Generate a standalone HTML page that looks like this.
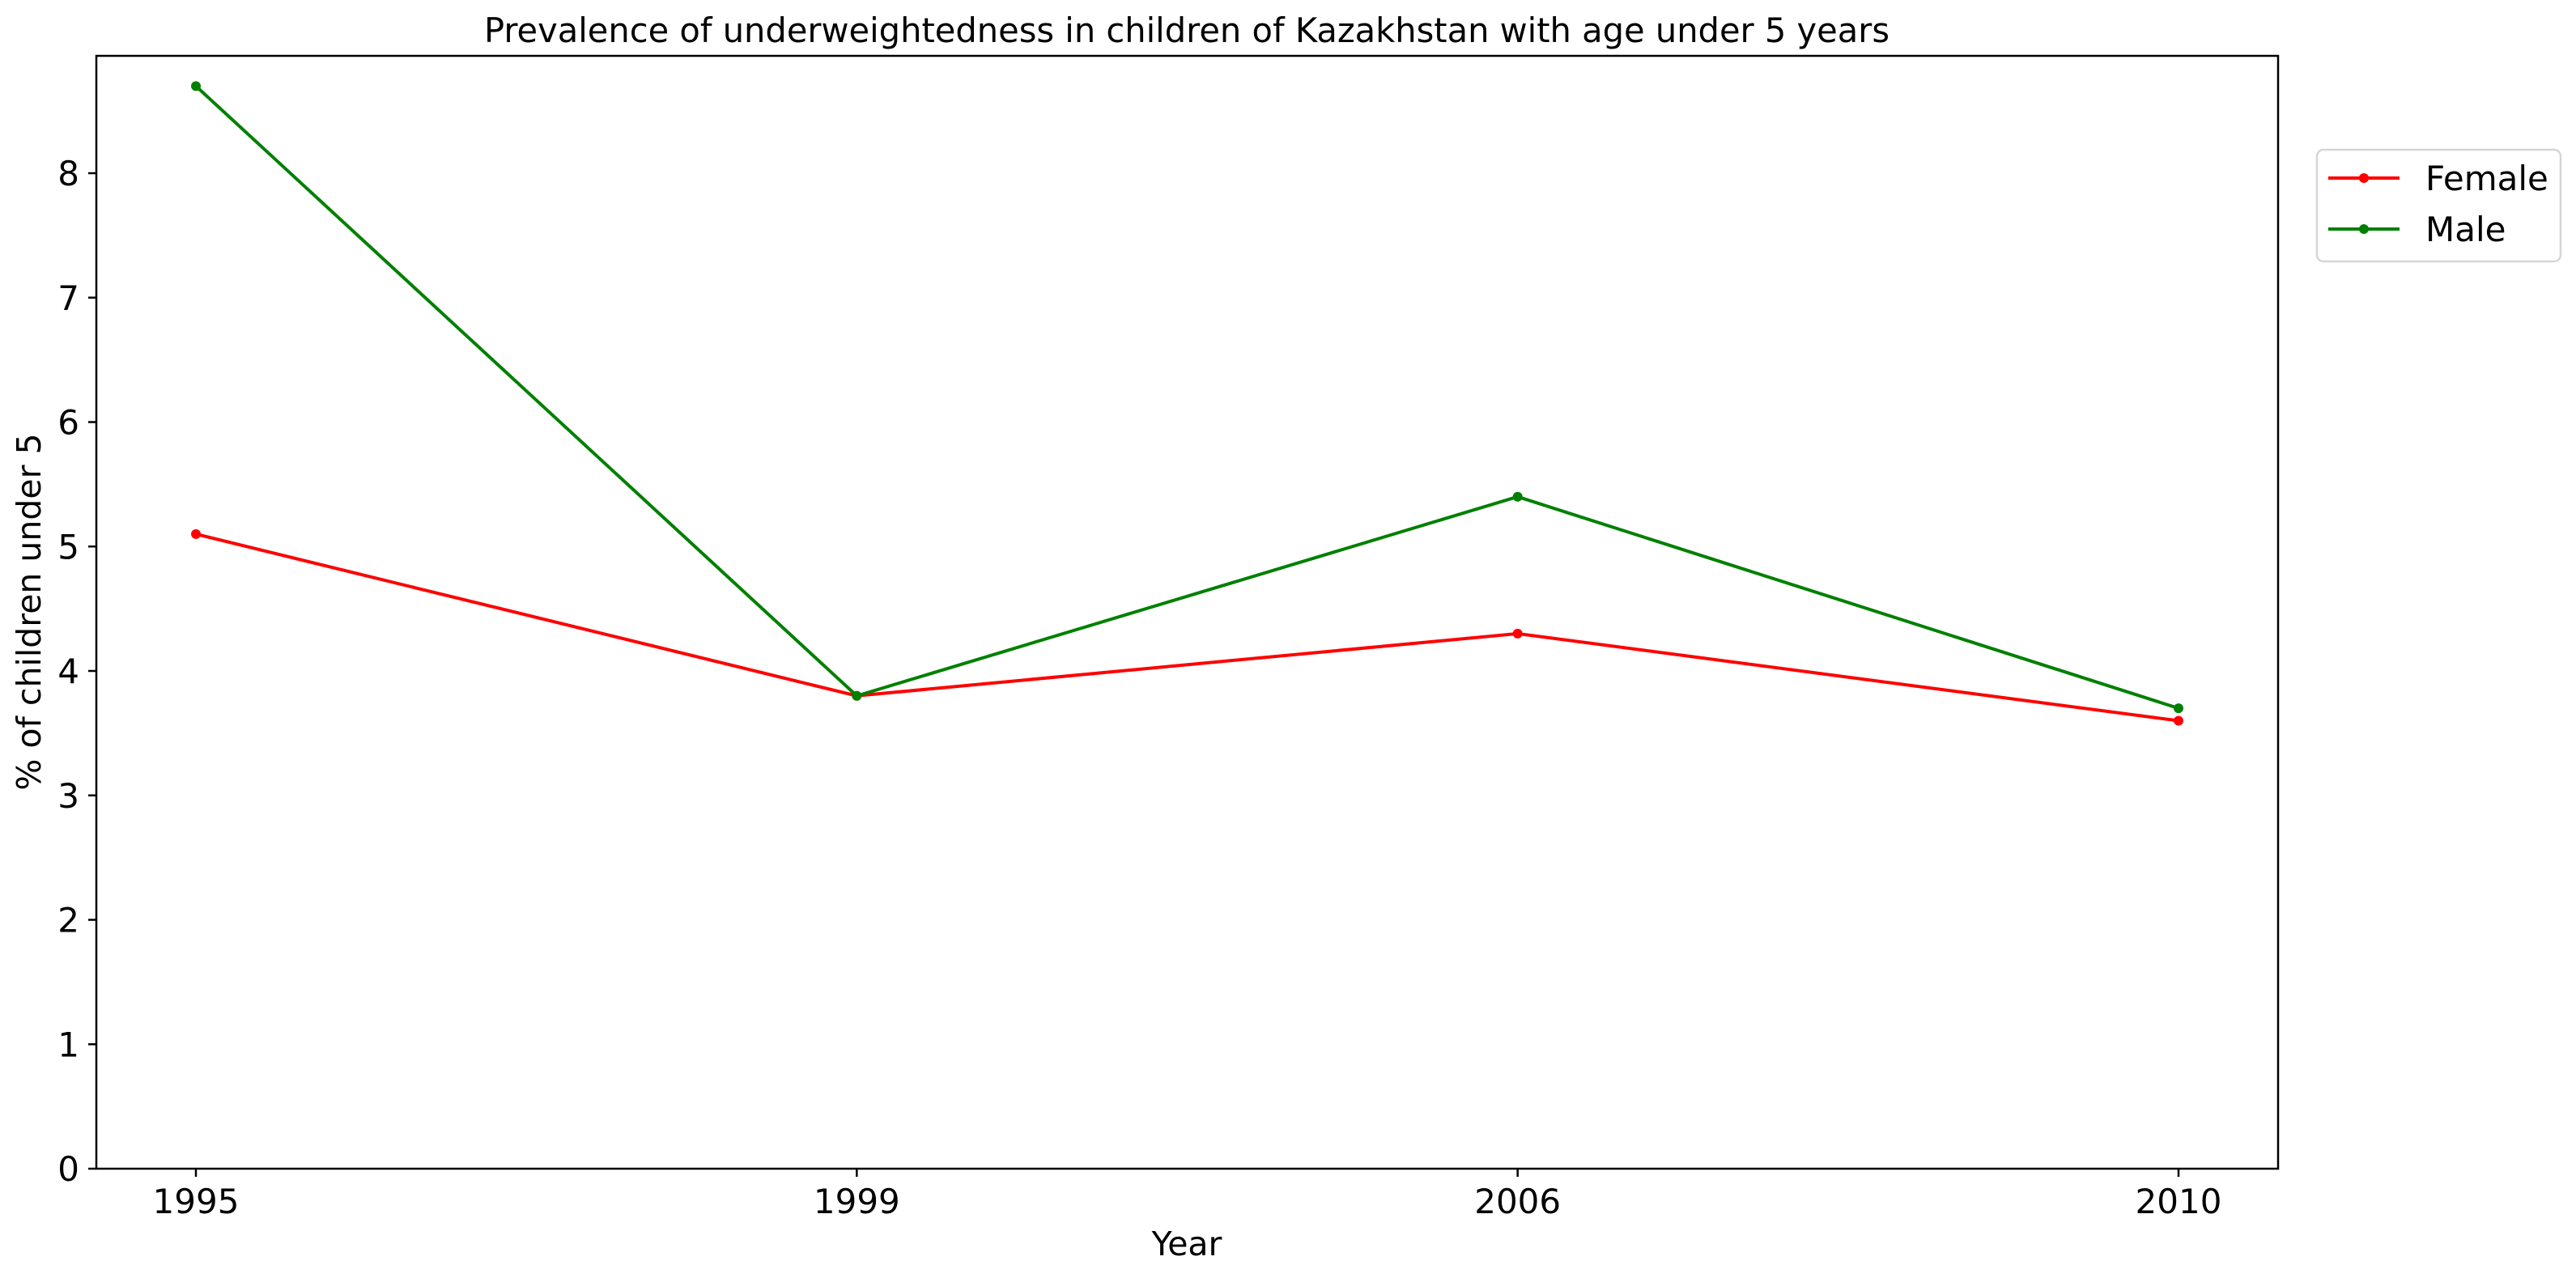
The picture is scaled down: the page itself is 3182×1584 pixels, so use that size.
<!DOCTYPE html>
<html><head><meta charset="utf-8"><style>
html,body{margin:0;padding:0;background:#fff;}
svg text{font-family:"DejaVu Sans","Liberation Sans",sans-serif;fill:#000;}
</style></head><body>
<svg id="chart" width="3182" height="1579" viewBox="0 0 3182 1579" xmlns="http://www.w3.org/2000/svg">
<rect width="3182" height="1579" fill="#fff"/>
<text x="1466" y="52" font-size="41.6" text-anchor="middle">Prevalence of underweightedness in children of Kazakhstan with age under 5 years</text>
<g id="ticks"></g>
<g id="series"></g>
<rect x="119" y="69" width="2695" height="1375" fill="none" stroke="#000" stroke-width="2.5"/>
<text x="1466" y="1551" font-size="41" text-anchor="middle">Year</text>
<text transform="translate(50,756) rotate(-90)" font-size="41" text-anchor="middle">% of children under 5</text>
<g>
<rect x="2862" y="185" width="301" height="138" rx="8" fill="#fff" stroke="#d6d6d6" stroke-width="2.5"/>
<line x1="2876" y1="220" x2="2964" y2="220" stroke="#ff0000" stroke-width="4"/>
<circle cx="2920" cy="220" r="6" fill="#ff0000"/>
<text x="2996" y="235" font-size="42">Female</text>
<line x1="2876" y1="283" x2="2964" y2="283" stroke="#008000" stroke-width="4"/>
<circle cx="2920" cy="283" r="6" fill="#008000"/>
<text x="2996" y="298" font-size="42">Male</text>
</g>
</svg>
<script>
const categories = ["1995","1999","2006","2010"];
const female = [5.1, 3.8, 4.3, 3.6];
const male = [8.7, 3.8, 5.4, 3.7];
const yTicks = [0,1,2,3,4,5,6,7,8];
const NS="http://www.w3.org/2000/svg";
const xs = i => 242 + i*(2691-242)/(categories.length-1);
const ys = v => 1444 - v*(1444-214)/8;
const tg=document.getElementById('ticks'), sg=document.getElementById('series');
function mk(tag,attrs,parent){const e=document.createElementNS(NS,tag);for(const k in attrs)e.setAttribute(k,attrs[k]);parent.appendChild(e);return e;}
yTicks.forEach(t=>{
  const l=mk('line',{x1:109,x2:119,y1:ys(t),y2:ys(t),stroke:'#000','stroke-width':2.5},tg);
  
  
  const tx=mk('text',{x:98,y:ys(t)+15,'font-size':42,'text-anchor':'end'},tg);
  
  
  tx.textContent=t;
});
categories.forEach((c,i)=>{
  const l=mk('line',{x1:xs(i),x2:xs(i),y1:1444,y2:1454,stroke:'#000','stroke-width':2.5},tg);
  
  
  const tx=mk('text',{x:xs(i),y:1499,'font-size':42,'text-anchor':'middle'},tg);
  
  
  tx.textContent=c;
});
[[female,'#ff0000','female'],[male,'#008000','male']].forEach(([d,col,n])=>{
  const p=mk('polyline',{points:d.map((v,i)=>xs(i)+','+ys(v)).join(' '),fill:'none',stroke:col,'stroke-width':4},sg);
  
  
  d.forEach((v,i)=>{
    const c=mk('circle',{cx:xs(i),cy:ys(v),r:6,fill:col},sg);
    
    
  });
});
</script>
</body></html>
